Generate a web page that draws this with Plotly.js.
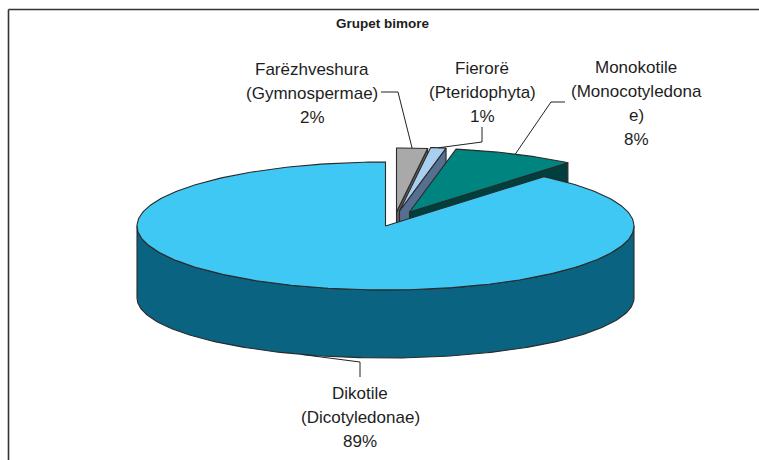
<!DOCTYPE html>
<html>
<head>
<meta charset="utf-8">
<script src="https://cdn.plot.ly/plotly-3.0.1.min.js"></script>
<style>html,body{margin:0;padding:0;background:#fff;}#chart{width:759px;height:460px;}</style>
</head>
<body>
<div id="chart"></div>
<script>
// ---- data ----
const chartTitle = 'Grupet bimore';
const categories = ['Farëzhveshura (Gymnospermae)', 'Fierorë (Pteridophyta)', 'Monokotile (Monocotyledonae)', 'Dikotile (Dicotyledonae)'];
const labelLines = [
  ['Farëzhveshura', '(Gymnospermae)'],
  ['Fierorë', '(Pteridophyta)'],
  ['Monokotile', '(Monocotyledona', 'e)'],
  ['Dikotile', '(Dicotyledonae)']
];
const values = [2, 1, 8, 89];

// ---- styles / layout constants ----
const topColors  = ['#A9A9A9', '#A9CFF0', '#00847F', '#40C8F5'];
const sideColors = ['#5F5F5F', '#566F91', '#003F3E', '#0A6380'];
const explode = [[11, -14], [14, -15], [24, -14], [0, 0]];
const labelPos = [[312, 69], [482, 68], [636, 67], [360, 393]];
const elbows = [[[381, 92], [398, 92]], [[482, 127], [482, 142]], [[565, 102], [551, 102]], [[360, 377], [360, 362]]];
const lineGap = 24;
const cx = 385.5, cy = 226, rx = 248.5, ryTop = 64, ryBot = 60, depth = 72;
const edgeColor = '#2a2a2a';

const total = values.reduce((a, b) => a + b, 0);
const angles = [];
let acc = 0;
values.forEach(v => { const a0 = acc / total * 2 * Math.PI; acc += v; angles.push([a0, acc / total * 2 * Math.PI]); });

function topPt(t, o) { return [cx + o[0] + rx * Math.sin(t), cy + o[1] - ryTop * Math.cos(t)]; }
function botPt(t, o) { return [cx + o[0] + rx * Math.sin(t), cy + o[1] + depth - ryBot * Math.cos(t)]; }
function arc(f, a0, a1, o) {
  const n = Math.max(2, Math.ceil((a1 - a0) / (Math.PI / 180)));
  const pts = [];
  for (let k = 0; k <= n; k++) pts.push(f(a0 + (a1 - a0) * k / n, o));
  return pts;
}
function poly(pts, fill) {
  const xs = pts.map(p => p[0]), ys = pts.map(p => p[1]);
  xs.push(xs[0]); ys.push(ys[0]);
  return { type: 'scatter', mode: 'lines', x: xs, y: ys, fill: 'toself', fillcolor: fill,
    line: { color: edgeColor, width: 1.1 }, hoverinfo: 'skip', showlegend: false };
}

const traces = [];
function sliceTraces(i) {
  const o = explode[i], [a0, a1] = angles[i];
  const apexT = [cx + o[0], cy + o[1]], apexB = [cx + o[0], cy + o[1] + depth];
  // visible radial end face
  const nEnd = a1 + Math.PI / 2;
  if (Math.cos(nEnd) < 0 && a1 < 2 * Math.PI - 1e-6) {
    traces.push(poly([apexT, topPt(a1, o), botPt(a1, o), apexB], sideColors[i]));
  }
  // visible outer curved side
  const s0 = Math.max(a0, Math.PI / 2), s1 = Math.min(a1, 1.5 * Math.PI);
  if (s1 > s0) {
    const up = arc(topPt, s0, s1, o), dn = arc(botPt, s0, s1, o).reverse();
    traces.push(poly(up.concat(dn), sideColors[i]));
  }
  // top face
  traces.push(poly([apexT].concat(arc(topPt, a0, a1, o)), topColors[i]));
}
// back slices first, front (largest) last
[0, 1, 2, 3].forEach(sliceTraces);

// leader lines
const annotations = [];
values.forEach((v, i) => {
  const o = explode[i], [a0, a1] = angles[i], mid = (a0 + a1) / 2;
  const front = Math.cos(mid) < 0;
  const end = front ? botPt(mid, o) : topPt(mid, o);
  const pts = elbows[i].concat([end]);
  traces.push({ type: 'scatter', mode: 'lines', x: pts.map(p => p[0]), y: pts.map(p => p[1]),
    line: { color: '#222', width: 1 }, hoverinfo: 'skip', showlegend: false });
  const lines = labelLines[i].concat([v + '%']);
  lines.forEach((t, k) => {
    annotations.push({ x: labelPos[i][0], y: labelPos[i][1] + k * lineGap, xref: 'x', yref: 'y',
      text: t, showarrow: false, xanchor: 'center', yanchor: 'middle',
      font: { family: 'Liberation Sans, Arial, sans-serif', size: 17, color: '#1e1e1e' } });
  });
});
annotations.push({ x: 383, y: 23, xref: 'x', yref: 'y', text: '<b>' + chartTitle + '</b>', showarrow: false,
  xanchor: 'center', yanchor: 'middle', font: { family: 'Liberation Sans, Arial, sans-serif', size: 13.5, color: '#1e1e1e' } });

const layout = {
  width: 759, height: 460, margin: { l: 0, r: 0, t: 0, b: 0 },
  paper_bgcolor: '#fff', plot_bgcolor: '#fff', showlegend: false,
  xaxis: { range: [0, 759], visible: false, fixedrange: true },
  yaxis: { range: [460, 0], visible: false, fixedrange: true },
  annotations: annotations,
  shapes: [
    { type: 'line', xref: 'paper', yref: 'paper', x0: 8.5 / 759, x1: 8.5 / 759, y0: 1 - 9.5 / 460, y1: -0.1, line: { color: '#333', width: 1.6 } },
    { type: 'line', xref: 'paper', yref: 'paper', x0: 8.5 / 759, x1: 1.1, y0: 1 - 9.5 / 460, y1: 1 - 9.5 / 460, line: { color: '#333', width: 1.6 } }
  ]
};
Plotly.newPlot('chart', traces, layout, { displayModeBar: false, staticPlot: true });
</script>
</body>
</html>
